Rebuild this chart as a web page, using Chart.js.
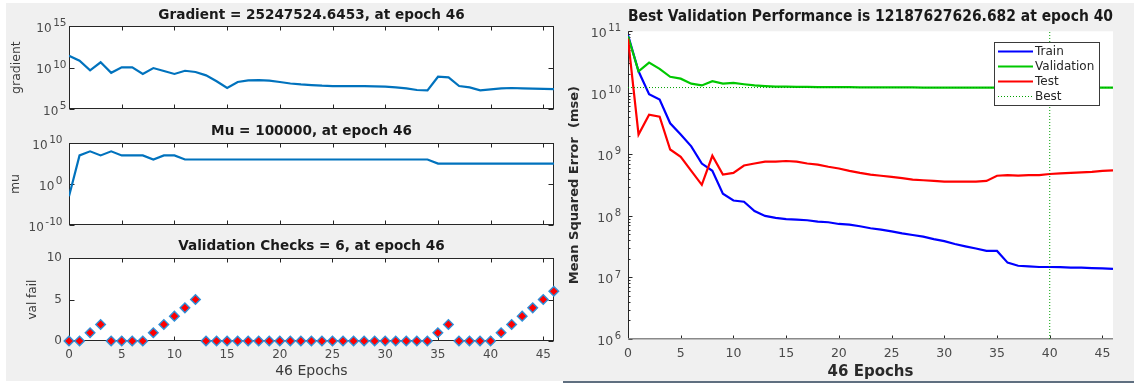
<!DOCTYPE html>
<html><head><meta charset="utf-8">
<script src="https://cdn.jsdelivr.net/npm/chart.js@4.4.0/dist/chart.umd.min.js"></script>
<style>
html,body{margin:0;padding:0;background:#fff;width:1134px;height:383px;overflow:hidden;position:relative}
#bg{position:absolute;left:6px;top:3px;width:1128px;height:378px;background:#f0f0f0}
#bline{position:absolute;left:563px;top:381px;width:571px;height:2px;background:#5f6f80}
canvas{position:absolute}
</style></head><body>
<div id="bg"></div><div id="bline"></div>
<canvas id="cGrad" width="560" height="118" style="left:0;top:0"></canvas>
<canvas id="cMu" width="560" height="118" style="left:0;top:118px"></canvas>
<canvas id="cVal" width="560" height="147" style="left:0;top:236px"></canvas>
<canvas id="cPerf" width="574" height="383" style="left:560px;top:0"></canvas>
<script>
// ---------- data ----------
const epochs = [0,1,2,3,4,5,6,7,8,9,10,11,12,13,14,15,16,17,18,19,20,21,22,23,24,25,26,27,28,29,30,31,32,33,34,35,36,37,38,39,40,41,42,43,44,45,46];
const epochTicks = [0,5,10,15,20,25,30,35,40,45];

const gradientValues = [2.6e11,6.6e10,4.6e9,4.3e10,2.3e9,1.05e10,1.05e10,1.7e9,8.7e9,3.8e9,1.7e9,4.1e9,2.9e9,1.15e9,2.2e8,3.4e7,1.8e8,2.8e8,3.1e8,2.6e8,1.8e8,1.2e8,9.3e7,7.8e7,6.5e7,5.9e7,5.9e7,5.6e7,5.6e7,5.4e7,4.9e7,4.1e7,3.1e7,1.95e7,1.8e7,7.8e8,6.6e8,5.9e7,4.1e7,1.8e7,2.3e7,3.1e7,3.4e7,3.1e7,2.95e7,2.7e7,25247524.6453];
const gradientTicks = [1e5,1e10,1e15];

const muValues = [1e-3,1e7,1e8,1e7,1e8,1e7,1e7,1e7,1e6,1e7,1e7,1e6,1e6,1e6,1e6,1e6,1e6,1e6,1e6,1e6,1e6,1e6,1e6,1e6,1e6,1e6,1e6,1e6,1e6,1e6,1e6,1e6,1e6,1e6,1e6,1e5,1e5,1e5,1e5,1e5,1e5,1e5,1e5,1e5,1e5,1e5,1e5];
const muTicks = [1e-10,1,1e10];

const valFailValues = [0,0,1,2,0,0,0,0,1,2,3,4,5,0,0,0,0,0,0,0,0,0,0,0,0,0,0,0,0,0,0,0,0,0,0,1,2,0,0,0,0,1,2,3,4,5,6];
const valFailTicks = [0,5,10];

const trainPerf = [8.7e10,2.24e10,9.5e9,7.8e9,3.2e9,2.1e9,1.35e9,7.1e8,5.4e8,2.3e8,1.78e8,1.7e8,1.2e8,1.0e8,9.3e7,8.9e7,8.7e7,8.5e7,8.1e7,7.9e7,7.4e7,7.2e7,6.8e7,6.3e7,6.0e7,5.6e7,5.2e7,4.9e7,4.6e7,4.2e7,3.9e7,3.5e7,3.2e7,2.95e7,2.7e7,2.7e7,1.74e7,1.55e7,1.51e7,1.48e7,1.48e7,1.47e7,1.45e7,1.44e7,1.42e7,1.41e7,1.38e7];
const validationPerf = [8.3e10,2.24e10,3.1e10,2.45e10,1.82e10,1.7e10,1.41e10,1.32e10,1.55e10,1.41e10,1.45e10,1.38e10,1.32e10,1.29e10,1.26e10,1.26e10,1.25e10,1.25e10,1.24e10,1.24e10,1.24e10,1.235e10,1.23e10,1.23e10,1.23e10,1.225e10,1.225e10,1.225e10,1.22e10,1.22e10,1.22e10,1.22e10,1.22e10,1.22e10,1.22e10,1.22e10,1.22e10,1.22e10,1.22e10,1.22e10,1.2188e10,1.22e10,1.22e10,1.22e10,1.22e10,1.22e10,1.22e10];
const testPerf = [7.6e10,2.1e9,4.4e9,4.1e9,1.2e9,9.1e8,5.4e8,3.2e8,9.5e8,4.7e8,5.0e8,6.6e8,7.1e8,7.6e8,7.6e8,7.8e8,7.6e8,7.1e8,6.8e8,6.3e8,5.9e8,5.4e8,5.0e8,4.7e8,4.5e8,4.3e8,4.1e8,3.9e8,3.8e8,3.7e8,3.6e8,3.6e8,3.6e8,3.6e8,3.7e8,4.5e8,4.6e8,4.5e8,4.6e8,4.6e8,4.8e8,4.9e8,5.0e8,5.1e8,5.2e8,5.4e8,5.5e8];
const perfTicks = [1e6,1e7,1e8,1e9,1e10,1e11];
const bestEpoch = 40;
const bestPerf = 12187627626.682;

const gradientTitle = 'Gradient = 25247524.6453, at epoch 46';
const muTitle = 'Mu = 100000, at epoch 46';
const valTitle = 'Validation Checks = 6, at epoch 46';
const perfTitle = 'Best Validation Performance is 12187627626.682 at epoch 40';
const epochsLabel = '46 Epochs';

// ---------- helpers ----------
Chart.defaults.font.family = "'DejaVu Sans', sans-serif";
Chart.defaults.color = '#444';
const FONT = "'DejaVu Sans', sans-serif";
const pts = arr => epochs.map((e, i) => ({x: e, y: arr[i]}));
const setTicks = list => s => { s.ticks = list.map(v => ({value: v})); };

const areaBg = {
  id: 'areaBg',
  beforeDraw(chart) {
    const a = chart.chartArea, ctx = chart.ctx;
    ctx.save(); ctx.fillStyle = '#ffffff';
    ctx.fillRect(a.left, a.top, a.right - a.left, a.bottom - a.top);
    ctx.restore();
  }
};

function seg(ctx, x1, y1, x2, y2) { ctx.beginPath(); ctx.moveTo(x1, y1); ctx.lineTo(x2, y2); ctx.stroke(); }

const matlabAxes = {
  id: 'matlabAxes',
  beforeDatasetsDraw(chart, args, o) {
    const ctx = chart.ctx, a = chart.chartArea, x = chart.scales.x, y = chart.scales.y;
    const L = Math.round(a.left) + 0.5, R = Math.round(a.right) - 0.5, T = Math.round(a.top) + 0.5, B = Math.round(a.bottom) - 0.5;
    ctx.save();
    ctx.lineWidth = 1; ctx.strokeStyle = '#262626';
    if (o.box) {
      ctx.strokeRect(L, T, R - L, B - T);
    }
    x.ticks.forEach(t => {
      const p = Math.round(x.getPixelForValue(t.value)) + 0.5;
      seg(ctx, p, B, p, B - o.tickLen);
      if (o.box) seg(ctx, p, T, p, T + o.tickLen);
    });
    y.ticks.forEach(t => {
      const p = Math.round(y.getPixelForValue(t.value)) + 0.5;
      seg(ctx, L, p, L + o.tickLen + 1, p);
      if (o.box) seg(ctx, R, p, R - o.tickLen - 1, p);
    });
    if (o.minor) {
      for (let k = 0; k < y.ticks.length - 1; k++) {
        const d = y.ticks[k].value;
        for (let m = 2; m <= 9; m++) {
          const p = Math.round(y.getPixelForValue(m * d)) + 0.5;
          seg(ctx, L, p, L + 2, p);
        }
      }
    }
    if (!o.box) {
      ctx.strokeStyle = '#262626'; ctx.lineWidth = 1;
      seg(ctx, L, a.top, L, a.bottom);
      ctx.strokeStyle = '#8a8a8a'; ctx.lineWidth = 1.6;
      seg(ctx, a.left, a.bottom - 0.3, a.right, a.bottom - 0.3);
    }
    ctx.restore();
  }
};

const supLabels = {
  id: 'supLabels',
  afterDraw(chart, args, o) {
    if (!o || !o.enabled) return;
    const ctx = chart.ctx, s = chart.scales.y;
    const xr = chart.chartArea.left - o.gap;
    ctx.save();
    ctx.fillStyle = '#4a4a4a'; ctx.textAlign = 'right'; ctx.textBaseline = 'middle';
    s.ticks.forEach(t => {
      const py = s.getPixelForValue(t.value);
      const e = String(Math.round(Math.log10(t.value)));
      ctx.font = o.expSize + 'px ' + FONT;
      ctx.fillText(e, xr, py + o.expDy);
      const ew = ctx.measureText(e).width;
      ctx.font = o.baseSize + 'px ' + FONT;
      ctx.fillText('10', xr - ew - o.sep, py + o.baseDy);
    });
    ctx.restore();
  }
};

const perfLegend = {
  id: 'perfLegend',
  afterDraw(chart, args, o) {
    if (!o || !o.enabled) return;
    const ctx = chart.ctx, a = chart.chartArea;
    const items = chart.data.datasets.filter(d => !d.legendSkip);
    const x0 = Math.round(a.right - o.right - o.width), y0 = Math.round(a.top + o.top);
    ctx.save();
    ctx.fillStyle = '#fff'; ctx.fillRect(x0, y0, o.width, o.height);
    ctx.strokeStyle = '#3a3a3a'; ctx.lineWidth = 1; ctx.strokeRect(x0 + 0.5, y0 + 0.5, o.width, o.height);
    items.forEach((d, i) => {
      const cy = Math.round(y0 + o.firstRow + i * o.rowGap) + 0.5;
      ctx.strokeStyle = d.borderColor; ctx.lineWidth = d.borderWidth;
      ctx.setLineDash(d.borderDash || []);
      seg(ctx, x0 + 4, cy, x0 + 39, cy);
      ctx.setLineDash([]);
      ctx.fillStyle = '#262626'; ctx.font = '12px ' + FONT; ctx.textAlign = 'left'; ctx.textBaseline = 'middle';
      ctx.fillText(d.label, x0 + 41, cy);
    });
    ctx.restore();
  }
};

function titleOpt(text, size, top, bottom) {
  return {display: true, text: text, fullSize: false, color: '#1a1a1a',
          font: {family: FONT, size: size, weight: 'bold', lineHeight: 1.2},
          padding: {top: top, bottom: bottom}};
}

function leftChart(id, W, H, area, cfg) {
  return new Chart(document.getElementById(id), {
    type: 'line',
    data: {datasets: cfg.datasets},
    plugins: [areaBg, matlabAxes, supLabels],
    options: {
      responsive: false, animation: false, events: [],
      layout: {padding: {left: 0, top: 0, right: W - area.right, bottom: 0}},
      plugins: {
        legend: {display: false}, tooltip: {enabled: false},
        title: titleOpt(cfg.title, 13.6, cfg.titlePad[0], cfg.titlePad[1]),
        matlabAxes: {box: true, tickLen: 4},
        supLabels: cfg.sup
      },
      scales: {
        x: {
          type: 'linear', min: 0, max: 46,
          afterBuildTicks: setTicks(epochTicks),
          afterFit: s => { s.height = H - area.bottom; },
          grid: {display: false, drawTicks: false}, border: {display: false},
          ticks: {display: cfg.xLabels, padding: 6.8, color: '#4a4a4a', font: {family: FONT, size: 12}},
          title: {display: cfg.xLabels, text: epochsLabel, color: '#3a3a3a',
                  font: {family: FONT, size: 14}, padding: {top: 0, bottom: 3}}
        },
        y: {
          type: cfg.yType, min: cfg.yMin, max: cfg.yMax,
          afterBuildTicks: setTicks(cfg.yTicks),
          afterFit: s => { s.width = area.left; },
          grid: {display: false, drawTicks: false}, border: {display: false},
          ticks: {display: cfg.yType === 'linear', padding: 7, color: '#4a4a4a', font: {family: FONT, size: 12}},
          title: {display: true, text: cfg.yTitle, color: '#3a3a3a',
                  font: {family: FONT, size: cfg.yTitleSize}, padding: {top: cfg.yTitlePad, bottom: 0}}
        }
      }
    }
  });
}

const blueLine = arr => ({data: pts(arr), borderColor: '#0072BD', borderWidth: 2.2, pointRadius: 0, tension: 0, fill: false});

leftChart('cGrad', 560, 118, {left: 69, right: 554, bottom: 109}, {
  title: gradientTitle, titlePad: [6.9, 2.9],
  datasets: [blueLine(gradientValues)],
  yType: 'logarithmic', yMin: gradientTicks[0], yMax: gradientTicks[2], yTicks: gradientTicks,
  yTitle: 'gradient', yTitleSize: 12.5, yTitlePad: 9.5, xLabels: false,
  sup: {enabled: true, gap: 2.5, sep: 1.5, baseSize: 12, expSize: 10.5, baseDy: 2.5, expDy: -2.5}
});

leftChart('cMu', 560, 118, {left: 69, right: 554, bottom: 107}, {
  title: muTitle, titlePad: [5.2, 3.6],
  datasets: [blueLine(muValues)],
  yType: 'logarithmic', yMin: muTicks[0], yMax: muTicks[2], yTicks: muTicks,
  yTitle: 'mu', yTitleSize: 12.5, yTitlePad: 7.8, xLabels: false,
  sup: {enabled: true, gap: 6.5, sep: 1.5, baseSize: 12, expSize: 10.5, baseDy: 2.5, expDy: -2.5}
});

leftChart('cVal', 560, 147, {left: 69, right: 554, bottom: 105}, {
  title: valTitle, titlePad: [2.2, 3.6],
  datasets: [{data: pts(valFailValues), showLine: false, pointStyle: 'rectRot', pointRadius: 4.8,
              pointBackgroundColor: '#ff0000', pointBorderColor: '#2f8fd8', pointBorderWidth: 1.4, clip: false}],
  yType: 'linear', yMin: valFailTicks[0], yMax: valFailTicks[2], yTicks: valFailTicks,
  yTitle: 'val fail', yTitleSize: 12, yTitlePad: 25.8, xLabels: true,
  sup: {enabled: false}
});

// ---------- performance ----------
(function () {
  const W = 574, H = 383, area = {left: 68, right: 553, bottom: 339};
  new Chart(document.getElementById('cPerf'), {
    type: 'line',
    data: {datasets: [
      {label: 'Train', data: pts(trainPerf), borderColor: '#0000ff', borderWidth: 2.2, pointRadius: 0, tension: 0, order: 4},
      {label: 'Validation', data: pts(validationPerf), borderColor: '#00c800', borderWidth: 2.2, pointRadius: 0, tension: 0, order: 3},
      {label: 'Test', data: pts(testPerf), borderColor: '#ff0000', borderWidth: 2.2, pointRadius: 0, tension: 0, order: 2},
      {label: 'Best', data: [{x: bestEpoch, y: perfTicks[0]}, {x: bestEpoch, y: perfTicks[perfTicks.length - 1]}],
       borderColor: '#00a000', borderWidth: 1, borderDash: [1, 2], pointRadius: 0, order: 1},
      {label: 'Best', legendSkip: true, data: [{x: epochs[0], y: bestPerf}, {x: epochs[epochs.length - 1], y: bestPerf}],
       borderColor: '#00a000', borderWidth: 1, borderDash: [1, 2], pointRadius: 0, order: 1}
    ]},
    plugins: [areaBg, matlabAxes, supLabels, perfLegend],
    options: {
      responsive: false, animation: false, events: [],
      layout: {padding: {left: 0, top: 0, right: W - area.right, bottom: 0}},
      plugins: {
        legend: {display: false}, tooltip: {enabled: false},
        title: titleOpt(perfTitle, 15, 8.3, 5),
        matlabAxes: {box: false, tickLen: 3, minor: true},
        supLabels: {enabled: true, gap: 7, sep: 1.5, baseSize: 12.5, expSize: 10, baseDy: 2.5, expDy: -2.5},
        perfLegend: {enabled: true, right: 14, top: 11, width: 105, height: 63, firstRow: 9, rowGap: 15}
      },
      scales: {
        x: {
          type: 'linear', min: 0, max: 46,
          afterBuildTicks: setTicks(epochTicks),
          afterFit: s => { s.height = H - area.bottom; },
          grid: {display: false, drawTicks: false}, border: {display: false},
          ticks: {padding: 7.5, color: '#4a4a4a', font: {family: FONT, size: 12.5}},
          title: {display: true, text: epochsLabel, color: '#2a2a2a',
                  font: {family: FONT, size: 15, weight: 'bold'}, padding: {top: 0, bottom: 2}}
        },
        y: {
          type: 'logarithmic', min: perfTicks[0], max: perfTicks[perfTicks.length - 1],
          afterBuildTicks: setTicks(perfTicks),
          afterFit: s => { s.width = area.left; },
          grid: {display: false, drawTicks: false}, border: {display: false},
          ticks: {display: false},
          title: {display: true, text: 'Mean Squared Error  (mse)', color: '#2a2a2a',
                  font: {family: FONT, size: 13, weight: 'bold'}, padding: {top: 7.2, bottom: 0}}
        }
      }
    }
  });
})();
</script>
</body></html>
